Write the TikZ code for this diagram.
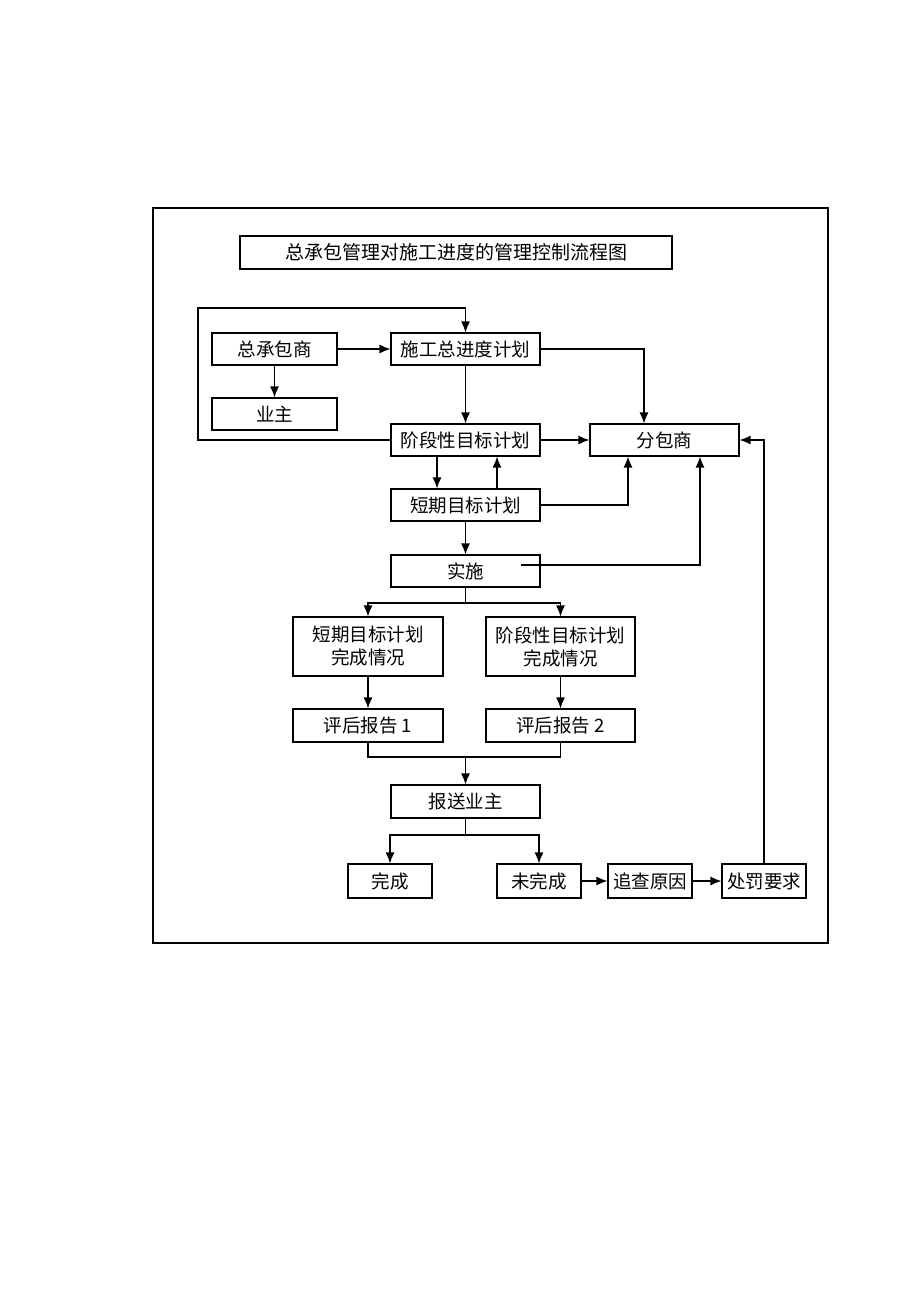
\documentclass[tikz,border=0pt]{standalone}
\usepackage{fontspec}
\newfontfamily\cjk{Noto Sans CJK SC}
\usetikzlibrary{arrows.meta}
\begin{document}
\begin{tikzpicture}[x=1pt,y=-1pt,
  box/.style={draw,line width=1.1pt,inner sep=0pt,font=\cjk\fontsize{18.5}{23}\selectfont,align=center},
  conn/.style={line width=1.3pt},
  arr/.style={conn,-{Latex[length=11pt,width=9pt]}}]
\useasboundingbox (0,0) rectangle (920,1302);
\draw[line width=1.1pt] (153,208) rectangle (828,943);
\node[box,minimum width=432pt,minimum height=33pt,font=\cjk\fontsize{19}{23}\selectfont] (title) at (456,252.5) {总承包管理对施工进度的管理控制流程图};
\node[box,minimum width=125pt,minimum height=32pt] (zcb) at (274.5,349) {总承包商};
\node[box,minimum width=125pt,minimum height=32pt] (yz) at (274.5,414) {业主};
\node[box,minimum width=149pt,minimum height=32pt] (sg) at (465.5,349) {施工总进度计划};
\node[box,minimum width=149pt,minimum height=32pt] (jd) at (465.5,440) {阶段性目标计划};
\node[box,minimum width=149pt,minimum height=32pt] (fb) at (664.5,440) {分包商};
\node[box,minimum width=149pt,minimum height=32pt] (dq) at (465.5,505) {短期目标计划};
\node[box,minimum width=149pt,minimum height=32pt] (ss) at (465.5,571) {实施};
\node[box,minimum width=150pt,minimum height=59pt] (dqwc) at (368,646.5) {短期目标计划\\完成情况};
\node[box,minimum width=149pt,minimum height=59pt] (jdwc) at (560.5,646.5) {阶段性目标计划\\完成情况};
\node[box,minimum width=150pt,minimum height=33pt] (pg1) at (368,725.5) {评后报告 1};
\node[box,minimum width=149pt,minimum height=33pt] (pg2) at (560.5,725.5) {评后报告 2};
\node[box,minimum width=149pt,minimum height=33pt] (bs) at (465.5,801.5) {报送业主};
\node[box,minimum width=84pt,minimum height=34pt] (wc) at (390,881) {完成};
\node[box,minimum width=84pt,minimum height=34pt] (wwc) at (539,881) {未完成};
\node[box,minimum width=84pt,minimum height=34pt] (zc) at (650,881) {追查原因};
\node[box,minimum width=84pt,minimum height=34pt] (cf) at (764,881) {处罚要求};
\coordinate (loop) at (198,308);
\coordinate (s1) at (465.5,603);
\coordinate (m1) at (465.5,757);
\coordinate (m2) at (465.5,835);
\coordinate (ssin) at (521,565);
% connectors
\draw[arr] (jd.west) -| (loop) -| (sg.north);
\draw[arr] (zcb.east) -- (sg.west);
\draw[arr] (zcb.south) -- (yz.north);
\draw[arr] (sg.south) -- (jd.north);
\draw[arr] (sg.east) -| ([xshift=-20.5pt]fb.north);
\draw[arr] (jd.east) -- (fb.west);
\draw[arr] ([xshift=-28.5pt]jd.south) -- ([xshift=-28.5pt]dq.north);
\draw[arr] ([xshift=31.5pt]dq.north) -- ([xshift=31.5pt]jd.south);
\draw[arr] (dq.east) -| ([xshift=-36.5pt]fb.south);
\draw[arr] (ssin) -| ([xshift=35.5pt]fb.south);
\draw[arr] (dq.south) -- (ss.north);
\draw[conn] (ss.south) -- (s1);
\draw[arr] (s1) -| (dqwc.north);
\draw[arr] (s1) -| (jdwc.north);
\draw[arr] (dqwc.south) -- (pg1.north);
\draw[arr] (jdwc.south) -- (pg2.north);
\draw[conn] (pg1.south) |- (m1) -| (pg2.south);
\draw[arr] (m1) -- (bs.north);
\draw[conn] (bs.south) -- (m2);
\draw[arr] (m2) -| (wc.north);
\draw[arr] (m2) -| (wwc.north);
\draw[arr] (wwc.east) -- (zc.west);
\draw[arr] (zc.east) -- (cf.west);
\draw[arr] (cf.north) |- (fb.east);
\end{tikzpicture}
\end{document}
